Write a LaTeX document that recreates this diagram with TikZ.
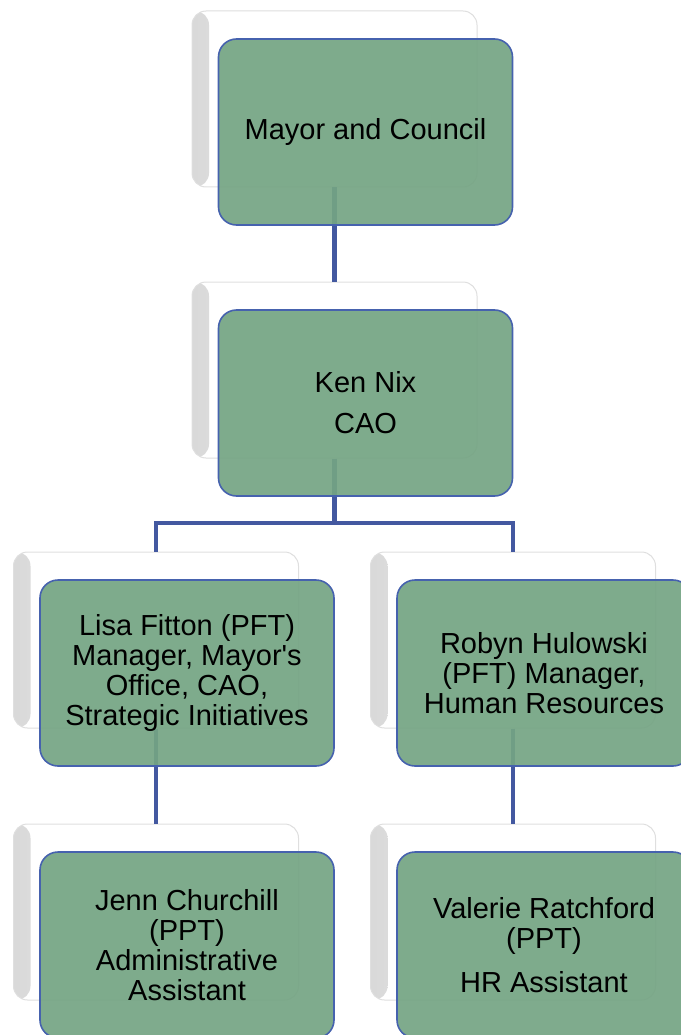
\documentclass[tikz,border=0pt]{standalone}
\usepackage{fontspec}
\setmainfont{Liberation Sans}
\definecolor{boxgreen}{RGB}{116,164,131}
\definecolor{boxblue}{RGB}{70,98,174}
\definecolor{linkblue}{RGB}{67,88,160}
\tikzset{
  backbox/.style={draw=gray!25, line width=1pt, fill=white, rounded corners=14pt,
    minimum width=285pt, minimum height=176pt,
    path picture={\shade[left color=gray!30, right color=white]
      (path picture bounding box.north west) rectangle ([xshift=17pt]path picture bounding box.south west);}},
  frontbox/.style={draw=boxblue, line width=1.6pt, fill=boxgreen, fill opacity=0.92, text opacity=1,
    rounded corners=18pt, minimum width=294pt, minimum height=186pt, align=center,
    font=\fontsize{29}{30}\selectfont},
  link/.style={draw=linkblue, line width=4.5pt}
}
\begin{document}
\begin{tikzpicture}[x=1pt,y=-1pt]
\useasboundingbox (0,0) rectangle (680,1035);
\pgfmathsetmacro{\dx}{31}
\pgfmathsetmacro{\dy}{33}
% white boxes behind
\node[backbox] (mayorb) at (334.5,99) {};
\node[backbox] (kenb) at (334.5,370) {};
\node[backbox] (lisab) at (156,640) {};
\node[backbox] (robynb) at (513,640) {};
\node[backbox] (jennb) at (156,912) {};
\node[backbox] (valerieb) at (513,912) {};
% connectors
\coordinate (fork) at (334.5,523);
\draw[link] (mayorb.south) -- (kenb.north);
\draw[link] (kenb.south) -- (fork);
\draw[link] (lisab.north) |- (fork) -| (robynb.north);
\draw[link] (lisab.south) -- (jennb.north);
\draw[link] (robynb.south) -- (valerieb.north);
% green boxes
\node[frontbox] (mayor) at ([shift={(\dx,\dy)}]mayorb.center) {Mayor and Council};
\node[frontbox] (ken) at ([shift={(\dx,\dy)}]kenb.center) {Ken Nix\\[11pt]CAO};
\node[frontbox] (lisa) at ([shift={(\dx,\dy)}]lisab.center) {Lisa Fitton (PFT)\\Manager, Mayor\textquotesingle s\\Office, CAO,\\Strategic Initiatives};
\node[frontbox] (robyn) at ([shift={(\dx,\dy)}]robynb.center) {Robyn Hulowski\\(PFT) Manager,\\Human Resources};
\node[frontbox] (jenn) at ([shift={(\dx,\dy)}]jennb.center) {Jenn Churchill\\(PPT)\\Administrative\\Assistant};
\node[frontbox] (valerie) at ([shift={(\dx,\dy)}]valerieb.center) {Valerie Ratchford\\(PPT)\\[14pt]HR Assistant};
\end{tikzpicture}
\end{document}
